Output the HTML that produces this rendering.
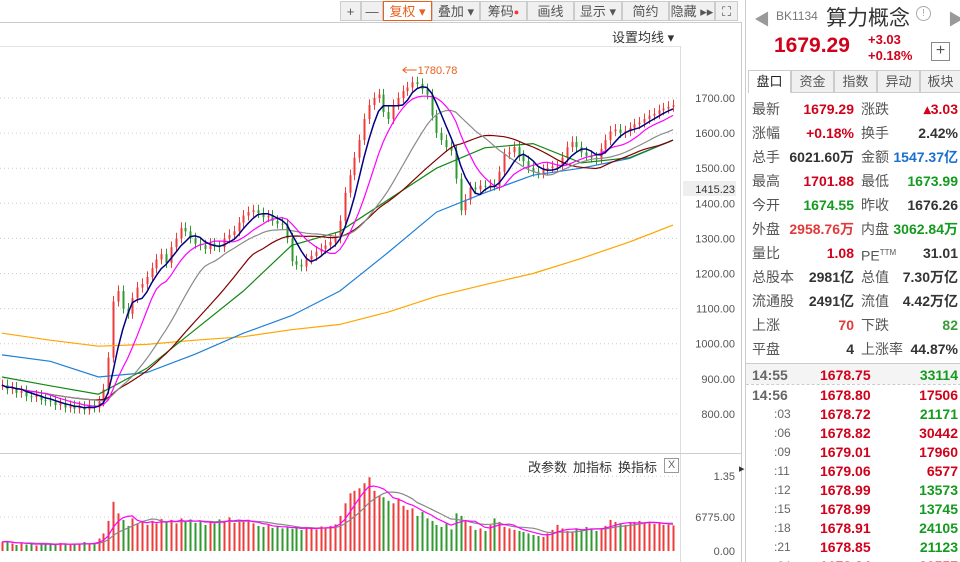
<!DOCTYPE html>
<html><head><meta charset="utf-8">
<style>
body{margin:0;width:960px;height:562px;overflow:hidden;background:#fff;font-family:"Liberation Sans","Noto Sans CJK SC",sans-serif;position:relative}
.abs{position:absolute}
.tb{position:absolute;top:1px;height:20px;border:1px solid #ccc;background:#f0f0f0;font-size:13px;color:#555;line-height:20px;text-align:center;box-sizing:border-box}
.rp{position:absolute;left:745px;top:0;width:215px;height:562px;background:#fff;border-left:1px solid #ccc;overflow:hidden}
.row{position:absolute;left:6px;width:206px;height:22px;font-size:14px;line-height:22px}
.row span{position:absolute}
.l1{left:0;color:#555}.v1{right:104px;font-weight:bold;text-align:right}.l2{left:109px;color:#555}.v2{right:0;font-weight:bold;text-align:right}
.r{color:#d0021b}.g{color:#139a1f}.k{color:#333}.b{color:#1a6fd0}
.tk{position:absolute;left:6px;width:206px;height:19px;font-size:14px;line-height:19px;font-weight:bold}
.tk span{position:absolute}
.tab{position:absolute;top:70px;height:23px;width:43px;background:#f0f0f0;border:1px solid #ccc;box-sizing:border-box;font-size:13px;color:#555;text-align:center;line-height:21px}
</style></head><body>
<svg id="chart" class="abs" style="left:0;top:0" width="742" height="562"></svg>

<div class="tb" style="left:340px;width:21px">+</div>
<div class="tb" style="left:361px;width:22px">—</div>
<div class="tb" style="left:383px;width:49px;border-color:#e8601c;background:#fff;color:#e8601c">复权 ▾</div>
<div class="tb" style="left:432px;width:48px">叠加 ▾</div>
<div class="tb" style="left:480px;width:47px">筹码<span style="color:#f33;font-size:9px;vertical-align:top">●</span></div>
<div class="tb" style="left:527px;width:47px">画线</div>
<div class="tb" style="left:574px;width:48px">显示 ▾</div>
<div class="tb" style="left:622px;width:47px">简约</div>
<div class="tb" style="left:669px;width:46px">隐藏 ▸▸</div>
<div class="tb" style="left:715px;width:23px">⛶</div>
<div class="abs" style="left:612px;top:27px;font-size:13px;color:#333">设置均线 ▾</div>
<div class="abs" style="left:528px;top:457px;font-size:13px;color:#333">改参数</div>
<div class="abs" style="left:573px;top:457px;font-size:13px;color:#333">加指标</div>
<div class="abs" style="left:618px;top:457px;font-size:13px;color:#333">换指标</div>
<div class="abs" style="left:664px;top:458px;width:13px;height:13px;border:1px solid #999;font-size:11px;line-height:13px;text-align:center;color:#666">X</div>

<div class="rp">
 <div class="abs" style="left:8px;top:6px;font-size:16px;color:#999">◀</div>
 <div class="abs" style="left:30px;top:9px;font-size:12px;color:#777">BK1134</div>
 <div class="abs" style="left:80px;top:2px;font-size:21px;color:#333">算力概念</div>
 <div class="abs" style="left:170px;top:6px;width:13px;height:13px;border:1.5px solid #aaa;border-radius:50%;font-size:10px;line-height:13px;text-align:center;color:#aaa">!</div>
 <div class="abs" style="left:202px;top:6px;font-size:16px;color:#999">▶</div>
 <div class="abs r" style="left:28px;top:34px;font-size:21px;font-weight:bold">1679.29</div>
 <div class="abs r" style="left:122px;top:32px;font-size:13px;font-weight:bold">+3.03</div>
 <div class="abs r" style="left:122px;top:48px;font-size:13px;font-weight:bold">+0.18%</div>
 <div class="abs" style="left:185px;top:42px;width:17px;height:17px;border:1px solid #888;font-size:16px;line-height:16px;text-align:center;color:#555">+</div>
 <div class="tab" style="left:2px;background:#fff;color:#222;border-bottom:none">盘口</div>
 <div class="tab" style="left:45px">资金</div>
 <div class="tab" style="left:88px">指数</div>
 <div class="tab" style="left:131px">异动</div>
 <div class="tab" style="left:174px;width:41px">板块</div>
 <div class="row" style="top:98px"><span class="l1">最新</span><span class="v1 r">1679.29</span><span class="l2">涨跌</span><span class="v2 r">▴3.03</span></div>
 <div class="row" style="top:122px"><span class="l1">涨幅</span><span class="v1 r">+0.18%</span><span class="l2">换手</span><span class="v2 k">2.42%</span></div>
 <div class="row" style="top:146px"><span class="l1">总手</span><span class="v1 k">6021.60万</span><span class="l2">金额</span><span class="v2 b">1547.37亿</span></div>
 <div class="row" style="top:170px"><span class="l1">最高</span><span class="v1 r">1701.88</span><span class="l2">最低</span><span class="v2 g">1673.99</span></div>
 <div class="row" style="top:194px"><span class="l1">今开</span><span class="v1 g">1674.55</span><span class="l2">昨收</span><span class="v2 k">1676.26</span></div>
 <div class="row" style="top:218px"><span class="l1">外盘</span><span class="v1" style="color:#e03a3a">2958.76万</span><span class="l2">内盘</span><span class="v2 g">3062.84万</span></div>
 <div class="row" style="top:242px"><span class="l1">量比</span><span class="v1 r">1.08</span><span class="l2">PE<sup style="font-size:8px">TTM</sup></span><span class="v2 k">31.01</span></div>
 <div class="row" style="top:266px"><span class="l1">总股本</span><span class="v1 k">2981亿</span><span class="l2">总值</span><span class="v2 k">7.30万亿</span></div>
 <div class="row" style="top:290px"><span class="l1">流通股</span><span class="v1 k">2491亿</span><span class="l2">流值</span><span class="v2 k">4.42万亿</span></div>
 <div class="row" style="top:314px"><span class="l1">上涨</span><span class="v1" style="color:#e03a3a">70</span><span class="l2">下跌</span><span class="v2" style="color:#3a9a3a">82</span></div>
 <div class="row" style="top:338px"><span class="l1">平盘</span><span class="v1 k">4</span><span class="l2">上涨率</span><span class="v2 k">44.87%</span></div>
 <div class="abs" style="left:0;top:363px;width:215px;border-top:1px solid #ccc"></div>
 <div class="abs" style="left:0;top:364px;width:215px;height:20px;background:#f4f4f4"></div>
 <div class="abs" style="left:0;top:384px;width:215px;border-top:1px dashed #ccc"></div>
 <div id="ticks"></div>
</div>
<div class="abs" style="left:739px;top:462px;font-size:11px;color:#333">▸</div>

<script>
const closes=[882,870,875,860,865,850,848,852,840,838,
835,825,830,818,822,815,820,812,825,818,
835,870,960,1120,1150,1100,1085,1130,1160,1170,
1190,1215,1240,1255,1230,1275,1300,1330,1320,1300,
1285,1280,1270,1285,1278,1275,1300,1310,1320,1345,
1365,1375,1380,1372,1360,1365,1350,1342,1340,1300,
1235,1225,1220,1240,1250,1262,1270,1280,1290,1300,
1350,1430,1480,1530,1580,1640,1680,1700,1710,1660,
1640,1680,1700,1720,1730,1745,1740,1725,1710,1650,
1600,1580,1560,1550,1470,1380,1410,1445,1440,1450,
1448,1452,1450,1490,1540,1545,1560,1535,1520,1500,
1490,1485,1495,1500,1505,1505,1530,1560,1575,1560,
1545,1535,1530,1525,1555,1580,1605,1610,1600,1605,
1615,1625,1630,1640,1650,1655,1665,1670,1675,1679.29];
const volumes=[1800,2000,1500,1200,1700,1300,1600,1100,1400,1500,
1300,1200,1600,1400,1200,1500,1300,1800,1400,1500,
2500,3500,6000,9800,7500,6200,5000,6500,5500,6000,
5200,6000,5500,6400,5800,6200,5500,6500,5800,6300,
5600,6000,5200,5800,5500,6300,6000,6700,5600,6200,
5800,6200,5500,5000,4800,5200,4600,5000,4500,4800,
4400,4600,4200,4800,4500,4300,4900,4600,5000,5300,
7000,9500,11500,12000,12500,13500,14700,12000,11000,10700,
10000,9500,10500,9000,8200,8500,7000,7800,6500,6000,
5200,4800,5500,4300,7500,7000,6000,5000,4200,4500,
4000,5200,6500,5800,4800,4500,4200,4000,3800,3500,
3200,3000,2800,3500,4200,5200,4500,4000,3800,4500,
4300,4800,4500,4000,4500,5000,6200,5800,5500,5200,
5600,5800,6000,5500,5800,5400,5600,5200,5300,5100];
// long MAs sampled every 10 candles (last at final candle)
const ma60=[905,880,856,930,1040,1150,1280,1320,1410,1500,1558,1570,1515,1530,1580];
const ma120=[968,950,905,918,970,1030,1080,1150,1260,1375,1430,1480,1500,1528,1580];
const ma250=[1030,1010,993,998,1010,1020,1040,1055,1090,1135,1168,1200,1243,1290,1338];
const priceTicks=[1700,1600,1500,1400,1300,1200,1100,1000,900,800];
const volTicks=["1.35","6775.00","0.00"];
const volTickVals=[14900,6775,0];
const peakLabel="1780.78";
const peakIndex=83;
const ticks=[["14:55","1678.75","33114","g"],["14:56","1678.80","17506","r"],[":03","1678.72","21171","g"],[":06","1678.82","30442","r"],[":09","1679.01","17960","r"],[":11","1679.06","6577","r"],[":12","1678.99","13573","g"],[":15","1678.99","13745","g"],[":18","1678.91","24105","g"],[":21","1678.85","21123","g"],[":24","1678.84","20557","r"]];

const svg=document.getElementById('chart');
const NS='http://www.w3.org/2000/svg';
const N=closes.length;
const xS=i=>2+i*(671/(N-1));
const yS=v=>98+(1700-v)*0.351;
const vS=v=>551-v*34/6775;
function mk(tag,attrs){const e=document.createElementNS(NS,tag);for(const k in attrs)e.setAttribute(k,attrs[k]);svg.appendChild(e);return e;}
let e=mk('line',{x1:0,y1:22.5,x2:742,y2:22.5,stroke:'#ccc'});
e=mk('line',{x1:0,y1:46.5,x2:680,y2:46.5,stroke:'#e4e4e4'});
e=mk('line',{x1:680.5,y1:46,x2:680.5,y2:562,stroke:'#ddd'});
e=mk('line',{x1:741.5,y1:22,x2:741.5,y2:562,stroke:'#ccc'});
e=mk('line',{x1:0,y1:453.5,x2:742,y2:453.5,stroke:'#ccc'});
priceTicks.forEach(v=>{
 const g=mk('line',{x1:0,y1:yS(v),x2:680,y2:yS(v),stroke:'#ccc','stroke-dasharray':'1,3'});
 
 const t=mk('text',{x:735,y:yS(v)+4,'text-anchor':'end','font-size':11,fill:'#555','font-family':'Liberation Sans'});
 t.textContent=v.toFixed(2);
 
});
volTickVals.forEach((v,k)=>{
 if(k<2){const g=mk('line',{x1:0,y1:vS(v),x2:680,y2:vS(v),stroke:'#ccc','stroke-dasharray':'1,3'});}
 const t=mk('text',{x:735,y:vS(v)+4,'text-anchor':'end','font-size':11,fill:'#555','font-family':'Liberation Sans'});
 t.textContent=volTicks[k];
 
});
e=mk('rect',{x:683,y:181,width:53,height:15,fill:'#eee'});
e=mk('text',{x:735,y:193,'text-anchor':'end','font-size':11,fill:'#333','font-family':'Liberation Sans'});
e.textContent='1415.23';

for(let i=0;i<N;i++){
 const c=closes[i],o=i>0?closes[i-1]:c;
 const up=c>=o;const col=up?'#ee3b3b':'#2f9a2f';
 const x=Math.round(xS(i))+0.5;
 const w=mk('line',{x1:x,y1:yS(Math.max(o,c)+16),x2:x,y2:yS(Math.min(o,c)-14),stroke:col,'stroke-width':1});
 
 const b=mk('rect',{x:x-1,y:yS(Math.max(o,c)),width:2,height:Math.max(1,Math.abs(yS(o)-yS(c))),fill:col});
 
 const vb=mk('rect',{x:x-1,y:vS(volumes[i]),width:2,height:551-vS(volumes[i]),fill:col});
 
}
function ma(arr,n){return arr.map((_,i)=>{const s=Math.max(0,i-n+1);let t=0;for(let k=s;k<=i;k++)t+=arr[k];return t/(i-s+1);});}
function line(vals,xf,yf,col,name,wd){
 const p=vals.map((v,i)=>xf(i).toFixed(1)+','+yf(v).toFixed(1)).join(' ');
 const l=mk('polyline',{points:p,fill:'none',stroke:col,'stroke-width':wd||1.2});
 
}
const sx=k=>xS(Math.min(k*10,N-1));
line(ma250,sx,yS,'#ffa500','ma250-line');
line(ma120,sx,yS,'#1f80d8','ma120-line');
line(ma60,sx,yS,'#118811','ma60-line');
line(ma(closes,30),xS,yS,'#800000','ma30-line');
line(ma(closes,20),xS,yS,'#8a8a8a','ma20-line');
line(ma(closes,10),xS,yS,'#ff00ff','ma10-line');
line(ma(closes,5),xS,yS,'#000080','ma5-line',1.5);
line(ma(volumes,10),xS,vS,'#888','volume-ma10-line');
line(ma(volumes,5),xS,vS,'#ff00ff','volume-ma5-line');
const px=xS(peakIndex);
e=mk('line',{x1:px,y1:70,x2:px+14,y2:70,stroke:'#e8601c'});
e=mk('path',{d:`M${px} 70 l4 -3 M${px} 70 l4 3`,stroke:'#e8601c',fill:'none'});
e=mk('text',{x:px+15,y:74,'font-size':11,fill:'#e8601c','font-family':'Liberation Sans'});
e.textContent=peakLabel;

const tkc=document.getElementById('ticks');
ticks.forEach((t,k)=>{
 const top=k===0?366:(386+(k-1)*19);
 const d=document.createElement('div');d.className='tk';d.style.top=top+'px';
 
 
 const big=k<2;
 d.innerHTML=`<span style="left:${big?0:22}px;color:#666;font-size:${big?14:12}px;font-weight:${big?'bold':'normal'}">${t[0]}</span><span class="r" style="left:68px">${t[1]}</span><span class="${t[3]}" style="right:0">${t[2]}</span>`;
 tkc.appendChild(d);
});
</script>
</body></html>
